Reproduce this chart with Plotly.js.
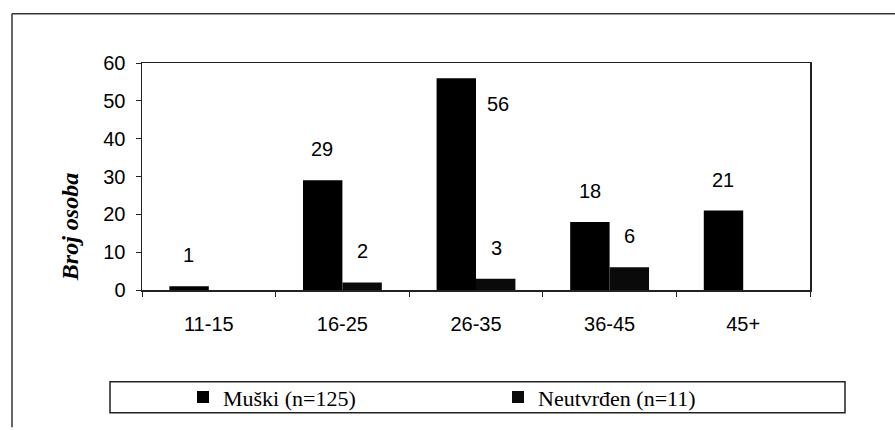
<!DOCTYPE html>
<html>
<head>
<meta charset="utf-8">
<script src="https://cdn.plot.ly/plotly-3.0.1.min.js"></script>
<style>html,body{margin:0;padding:0;background:#fff;}#chart{width:895px;height:430px;}</style>
</head>
<body>
<div id="chart"></div>
<script>
var categories = ["11-15", "16-25", "26-35", "36-45", "45+"];
var muski = [1, 29, 56, 18, 21];
var neutvrden = [0, 2, 3, 6, 0];
var seriesNames = ["Muški (n=125)", "Neutvrđen (n=11)"];
var yTitle = "Broj osoba";

var W = 895, H = 430;
var L = 142, R = 85, T = 63, B = 132;
var pw = W - L - R, ph = H - T - B;
function px(x) { return (x - L) / pw; }
function py(y) { return (H - B - y) / ph; }

var labelFont = {family: "Liberation Sans, Arial, sans-serif", size: 20, color: "#000"};
var yMax = 60;

var annotations = [];
function addLabels(vals, side) {
  vals.forEach(function (v, i) {
    if (v <= 0) return;
    var a = {x: categories[i], y: v, xref: "x", yref: "y", text: String(v), showarrow: false,
             xanchor: "center", yanchor: "middle",
             font: labelFont, xshift: side * 20, yshift: 31};
    if (v + 8 > yMax) { a.xshift = side * 20 + 42; a.yshift = -26; }
    annotations.push(a);
  });
}
addLabels(muski, -1);
addLabels(neutvrden, 1);

annotations.push({
  xref: "paper", yref: "paper", x: px(70), y: py(233), xanchor: "center", yanchor: "middle",
  text: yTitle, showarrow: false, textangle: -90,
  font: {family: "Liberation Serif, Times New Roman, serif", size: 24, color: "#000", weight: "bold", style: "italic"}
});

var data = [
  {type: "bar", name: seriesNames[0], x: categories, y: muski, marker: {color: "#000"}, hoverinfo: "none"},
  {type: "bar", name: seriesNames[1], x: categories, y: neutvrden, marker: {color: "#0a0a0a"}, hoverinfo: "none"}
];

var shapes = [
  {type: "line", xref: "paper", yref: "paper", x0: px(12), x1: px(12), y0: py(12), y1: py(440), line: {color: "#333", width: 1.5}},
  {type: "line", xref: "paper", yref: "paper", x0: px(12), x1: px(895), y0: py(12), y1: py(12), line: {color: "#333", width: 1.5}},
  {type: "rect", xref: "paper", yref: "paper", x0: px(110), x1: px(845), y0: py(425), y1: py(393), line: {color: "#222", width: 1.5}}
];

var layout = {
  width: W, height: H,
  margin: {l: L, r: R, t: T, b: B, pad: 0},
  paper_bgcolor: "#fff", plot_bgcolor: "#fff",
  barmode: "group", bargap: 0.41, bargroupgap: 0,
  showlegend: true,
  legend: {orientation: "h", x: px(183), xanchor: "left", y: py(409), yanchor: "middle",
           font: {family: "Liberation Serif, Times New Roman, serif", size: 22, color: "#000"},
           bgcolor: "rgba(0,0,0,0)", borderwidth: 0, entrywidthmode: "pixels", entrywidth: 270, traceorder: "normal"},
  xaxis: {type: "category", showgrid: false, zeroline: false, showline: true, linecolor: "#222", linewidth: 1.5, mirror: true,
          ticks: "outside", ticklen: 5, tickcolor: "#222", tickson: "boundaries", ticklabelstandoff: 15,
          tickfont: labelFont, fixedrange: true},
  yaxis: {range: [0, yMax], dtick: 10, showgrid: false, zeroline: false, showline: true, linecolor: "#222", linewidth: 1.5, mirror: true,
          ticks: "outside", ticklen: 5, tickcolor: "#222", ticklabelstandoff: 6, tickfont: labelFont, fixedrange: true},
  annotations: annotations,
  shapes: shapes
};

Plotly.newPlot("chart", data, layout, {displayModeBar: false, staticPlot: true});
</script>
</body>
</html>
